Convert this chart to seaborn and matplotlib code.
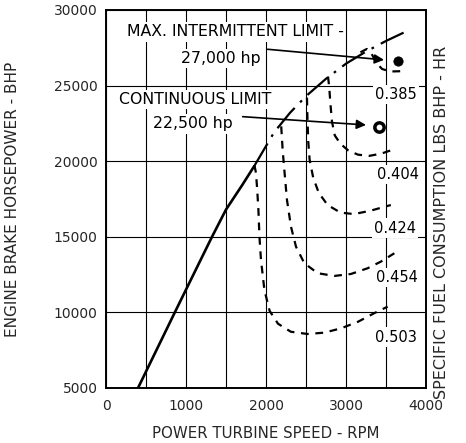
import numpy as np
import pandas as pd
import matplotlib
matplotlib.use("Agg")
import matplotlib.pyplot as plt
import seaborn as sns

# ---- data ----
solid_rpm = [400, 860, 1325, 1500, 1700, 1850]
solid_hp = [5000, 10000, 15000, 16800, 18400, 19650]

limit_rpm = [1850, 2100, 2300, 2500, 2750, 3000, 3250, 3500, 3720]
limit_hp = [19650, 21900, 23200, 24300, 25450, 26450, 27250, 27950, 28500]

c503_rpm = [1855, 1875, 1890, 1905, 1918, 1937, 1980, 2045, 2150, 2310, 2520, 2730, 2940, 3150, 3350, 3520]
c503_hp = [19750, 19200, 18100, 16770, 15000, 13470, 11480, 10100, 9250, 8720, 8570, 8660, 8950, 9380, 9940, 10380]

c454_rpm = [2190, 2208, 2229, 2262, 2312, 2375, 2479, 2646, 2854, 3062, 3271, 3437, 3604]
c454_hp = [22300, 20740, 19420, 17430, 15670, 14340, 13250, 12590, 12410, 12540, 12920, 13360, 13910]

c424_rpm = [2512, 2518, 2528, 2545, 2590, 2660, 2770, 2930, 3100, 3310, 3560]
c424_hp = [24200, 22800, 21300, 20100, 18900, 17900, 17100, 16600, 16500, 16730, 17100]

c404_rpm = [2775, 2790, 2805, 2825, 2860, 2930, 3030, 3150, 3290, 3440, 3580]
c404_hp = [25600, 24900, 23800, 22600, 21700, 21150, 20700, 20430, 20350, 20500, 20750]

c385_rpm = [3180, 3260, 3320, 3380, 3450, 3550, 3680]
c385_hp = [27200, 27420, 27100, 26500, 26100, 25930, 25950]

sfc_labels = ["0.385", "0.404", "0.424", "0.454", "0.503"]
sfc_label_rpm = [3625, 3650, 3612, 3637, 3625]
sfc_label_hp = [24400, 19090, 15580, 12280, 8370]

dot_rpm = [3655, 3410]
dot_hp = [26650, 22250]

limit_texts = ["MAX. INTERMITTENT LIMIT -", "27,000 hp", "CONTINUOUS LIMIT", "22,500 hp"]
limit_text_rpm = [1612, 1437, 1110, 1090]
limit_text_hp = [28545, 26760, 24050, 22460]

arrow_tail_rpm = [2020, 1708]
arrow_tail_hp = [27400, 22944]
arrow_head_rpm = [3475, 3250]
arrow_head_hp = [26700, 22394]

x_ticks = [0, 1000, 2000, 3000, 4000]
y_ticks = [5000, 10000, 15000, 20000, 25000, 30000]

# ---- plot ----
sns.set_style("white")
plt.rcParams['font.family'] = ['DejaVu Sans']

fig = plt.figure(figsize=(4.66, 4.43), dpi=100)
ax = fig.add_axes([0.2275, 0.1242, 0.6867, 0.8533])

ax.set_xlim(0, 4000)
ax.set_ylim(5000, 30000)
ax.set_xticks(x_ticks)
ax.set_xticks(np.arange(500, 4000, 1000), minor=True)
ax.set_yticks(y_ticks)
ax.set_xticklabels([str(v) for v in x_ticks], fontsize=10)
ax.set_yticklabels([str(v) for v in y_ticks], fontsize=10)
ax.tick_params(axis='both', which='both', length=0)
ax.tick_params(axis='x', pad=8)
ax.tick_params(axis='y', pad=6)
ax.grid(True, which='both', axis='x', color='black', linewidth=0.8)
ax.grid(True, which='major', axis='y', color='black', linewidth=0.8)
ax.set_axisbelow(True)
for s in ax.spines.values():
    s.set_color('black')
    s.set_linewidth(1.4)

sns.lineplot(x=solid_rpm, y=solid_hp, sort=False, estimator=None, color='black', linewidth=1.9, ax=ax)
sns.lineplot(x=limit_rpm, y=limit_hp, sort=False, estimator=None, color='black', linewidth=1.6, ax=ax)
ax.lines[-1].set_dashes((12, 3.5, 1.2, 3.5))

for r, h in [(c503_rpm, c503_hp), (c454_rpm, c454_hp), (c424_rpm, c424_hp),
             (c404_rpm, c404_hp), (c385_rpm, c385_hp)]:
    sns.lineplot(x=r, y=h, sort=False, estimator=None, color='black', linewidth=1.6, ax=ax)
    ax.lines[-1].set_dashes((3.5, 3))

for t, xr, yh in zip(sfc_labels, sfc_label_rpm, sfc_label_hp):
    ax.text(xr, yh, t, ha='center', va='center', fontsize=10.5, color='black',
            bbox=dict(facecolor='white', edgecolor='none', pad=1.5), zorder=4)

for t, xr, yh in zip(limit_texts, limit_text_rpm, limit_text_hp):
    ax.text(xr, yh, t, ha='center', va='center', fontsize=11.3, color='black',
            bbox=dict(facecolor='white', edgecolor='none', pad=1.5), zorder=4)

for xt, yt, xh, yh in zip(arrow_tail_rpm, arrow_tail_hp, arrow_head_rpm, arrow_head_hp):
    ax.annotate("", xy=(xh, yh), xytext=(xt, yt),
                arrowprops=dict(arrowstyle='-|>', color='black', lw=1.2,
                                mutation_scale=14, shrinkA=0, shrinkB=0), zorder=5)

sns.scatterplot(x=dot_rpm[:1], y=dot_hp[:1], color='black', s=45, edgecolor='black', ax=ax, zorder=6)
sns.scatterplot(x=dot_rpm[1:], y=dot_hp[1:], color='white', s=45, edgecolor='black', linewidth=2.5, ax=ax, zorder=6)

ax.set_xlabel("POWER TURBINE SPEED - RPM", fontsize=10.8, labelpad=9)
ax.set_ylabel("ENGINE BRAKE HORSEPOWER - BHP", fontsize=11, labelpad=24)
fig.text(441 / 466, 1 - 222 / 443, "SPECIFIC FUEL CONSUMPTION LBS BHP - HR",
         rotation=90, ha='center', va='center', fontsize=11.5)

fig.savefig("out.png", dpi=100)
